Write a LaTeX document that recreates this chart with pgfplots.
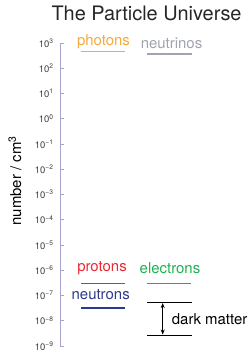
\documentclass[border=0pt]{standalone}
\usepackage{pgfplots}
\pgfplotsset{compat=1.18}
\usepackage{fontspec}
\setmainfont{TeX Gyre Heros}
\usetikzlibrary{arrows.meta}
\definecolor{cphot}{RGB}{245,170,60}
\definecolor{cneut}{RGB}{160,164,176}
\definecolor{cprot}{RGB}{232,40,52}
\definecolor{celec}{RGB}{30,176,80}
\definecolor{cneutron}{RGB}{46,56,140}
\definecolor{caxis}{RGB}{165,165,205}
\definecolor{ctick}{RGB}{60,60,60}
\begin{document}
\begin{tikzpicture}
\useasboundingbox (-60bp,-8bp) rectangle (189bp,346bp);
\begin{axis}[
  at={(0,0)}, anchor=south west,
  scale only axis, width=189bp, height=303bp,
  xmin=0, xmax=189, ymode=log, ymin=1e-9, ymax=1e3,
  hide x axis, axis y line*=left,
  axis line style={caxis, line width=0.6pt},
  tick style={caxis, line width=0.6pt},
  tick align=inside, major tick length=4bp,
  ytick={1e-9,1e-8,1e-7,1e-6,1e-5,1e-4,1e-3,1e-2,1e-1,1,1e1,1e2,1e3},
  yticklabels={10\textsuperscript{−9},10\textsuperscript{−8},10\textsuperscript{−7},10\textsuperscript{−6},10\textsuperscript{−5},10\textsuperscript{−4},10\textsuperscript{−3},10\textsuperscript{−2},10\textsuperscript{−1},10\textsuperscript{0},10\textsuperscript{1},10\textsuperscript{2},10\textsuperscript{3}},
  yticklabel style={font=\fontsize{9.5}{11}\selectfont, text=ctick, xshift=-3bp},
  yminorticks=false,
  ylabel={number / cm\textsuperscript{3}},
  ylabel style={at={(axis description cs:-0.238,0.545)}, anchor=center, font=\fontsize{15}{18}\selectfont},
  clip=false,
]
\addplot[cphot, line width=1.4pt] coordinates {(21,453) (65,453)};
\addplot[cneut, line width=1.4pt] coordinates {(87,366) (132,366)};
\addplot[cprot, line width=1.4pt] coordinates {(21,2.93e-7) (64.5,2.93e-7)};
\addplot[celec, line width=1.4pt] coordinates {(87.3,2.93e-7) (131,2.93e-7)};
\addplot[cneutron, line width=1.4pt] coordinates {(21,3.2e-8) (64.5,3.2e-8)};
\addplot[black, line width=1pt] coordinates {(87,5.37e-8) (131.7,5.37e-8)};
\addplot[black, line width=1pt] coordinates {(87,2.65e-9) (131.7,2.65e-9)};
\addplot[black, line width=0.8pt, {Stealth[length=5bp,width=4bp]}-{Stealth[length=5bp,width=4bp]}] coordinates {(102.7,5.0e-8) (102.7,2.85e-9)};
\node[font=\fontsize{15}{18}\selectfont, text=cphot] at (axis cs:43.5,1.12e3) {photons};
\node[font=\fontsize{15}{18}\selectfont, text=cneut] at (axis cs:111.5,1.0e3) {neutrinos};
\node[font=\fontsize{15}{18}\selectfont, text=cprot] at (axis cs:42,1.2e-6) {protons};
\node[font=\fontsize{15}{18}\selectfont, text=celec] at (axis cs:110,1.25e-6) {electrons};
\node[font=\fontsize{15}{18}\selectfont, text=cneutron] at (axis cs:40.7,1.1e-7) {neutrons};
\node[font=\fontsize{15}{18}\selectfont, anchor=west, inner sep=0pt] at (axis cs:111.7,1.17e-8) {dark matter};
\node[font=\fontsize{20}{24}\selectfont, text=black!85] at (axis description cs:0.458,1.096) {The Particle Universe};
\end{axis}
\end{tikzpicture}
\end{document}
